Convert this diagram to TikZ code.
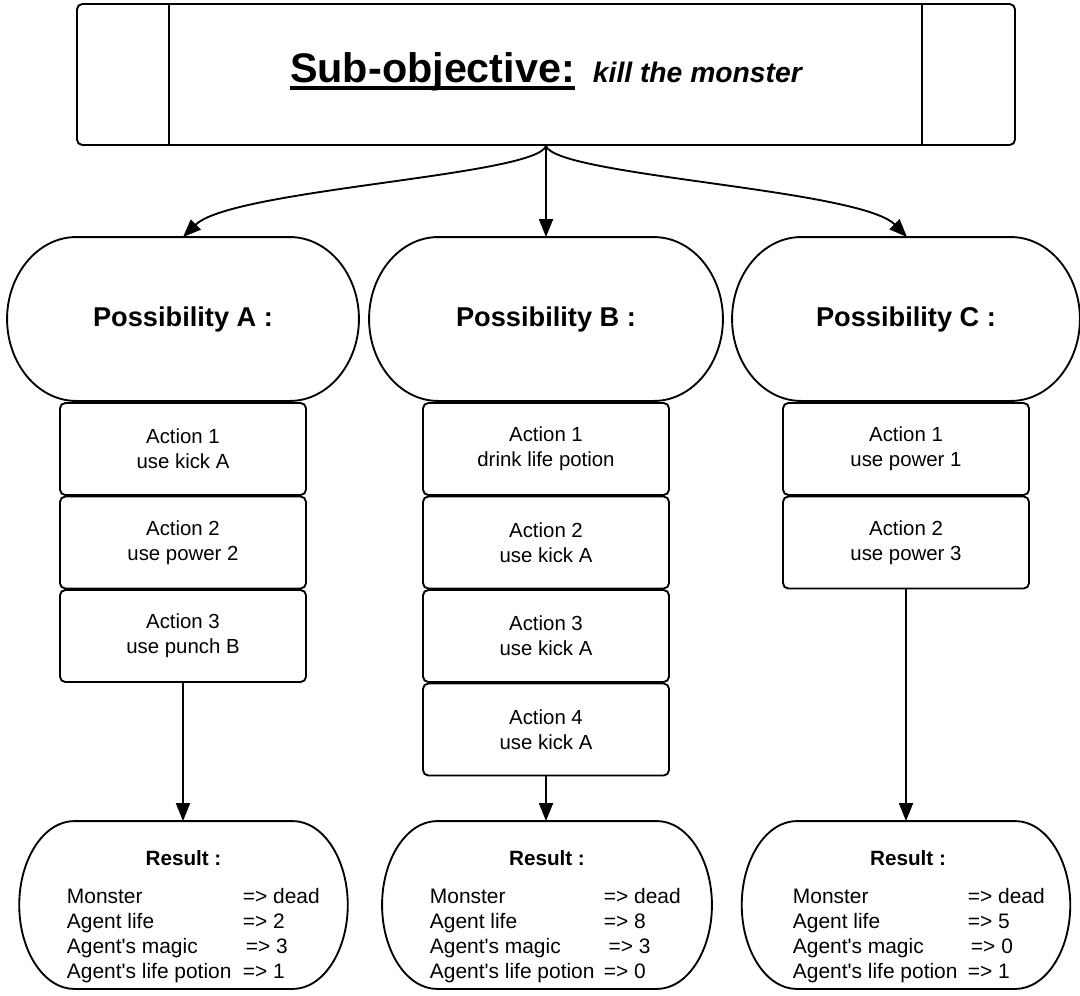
\documentclass[tikz,border=0pt]{standalone}
\usepackage{fontspec}
\setmainfont{Liberation Sans}[Ligatures=TeXOff]
\usetikzlibrary{arrows.meta,calc}

% thick underline for the heading word
\newcommand\heavyul[1]{\setbox0\hbox{#1}\rlap{\vrule width\wd0 height -2.6pt depth 4.9pt}\box0}

% outline with half-elliptic ends round a node (quarter ellipses as Bezier curves):
% #1 node, #2 x radius, #3 control length along x, #4 control length along y
\newcommand\capsule[4]{%
  \draw ($(#1.north west)+(#2,0)$)
    .. controls +(-#3,0) and +(0,-#4) .. (#1.west)
    .. controls +(0,#4) and +(-#3,0) .. ($(#1.south west)+(#2,0)$)
    -- ($(#1.south east)+(-#2,0)$)
    .. controls +(#3,0) and +(0,#4) .. (#1.east)
    .. controls +(0,-#4) and +(#3,0) .. ($(#1.north east)+(-#2,0)$)
    -- cycle;}

\begin{document}
\begin{tikzpicture}[x=0.75pt,y=-0.75pt,
  line width=1.4pt,
  box/.style={draw, rounded corners=4pt, inner sep=0pt},
  goal/.style={box, minimum width=703.5pt, minimum height=105.75pt},
  choice/.style={inner sep=0pt, minimum height=121.5pt,
    font=\fontsize{20.4}{24}\selectfont\bfseries},
  act/.style={box, minimum width=184.5pt, minimum height=69pt, align=center,
    font=\fontsize{15.3}{18.75}\selectfont},
  outcome/.style={inner sep=0pt, minimum height=124.5pt},
  outtitle/.style={anchor=base, inner sep=0pt, font=\fontsize{15.5}{18.75}\selectfont\bfseries},
  outlist/.style={anchor=base west, inner sep=0pt, font=\fontsize{15.7}{18.75}\selectfont},
  link/.style={-{Triangle[length=13.5pt,width=10.5pt]}, line width=1.4pt}
]
\useasboundingbox (0,0) rectangle (1080,995);

% heading box with its two side bars
\node[goal] (goal) at (546,74.5) {};
\draw[line width=1.1pt] ([xshift=69.75pt]goal.north west) -- ([xshift=69.75pt]goal.south west);
\draw[line width=1.1pt] ([xshift=-70.5pt]goal.north east) -- ([xshift=-70.5pt]goal.south east);
\node[anchor=base, inner sep=0pt] (goaltext) at (546,83)
  {\fontsize{31}{36}\selectfont\bfseries\heavyul{Sub-objective:}\hspace{13.5pt}{\fontsize{21.2}{25}\selectfont\itshape kill the monster}};

% the three possibilities
\node[choice, minimum width=262.5pt] (pa) at (183,319) {Possibility A :};
\node[choice, minimum width=264pt]   (pb) at (546,319) {Possibility B :};
\node[choice, minimum width=259.5pt] (pc) at (906,319) {Possibility C :};
\capsule{pa}{69}{38.1}{44.7}
\capsule{pb}{69}{38.1}{44.7}
\capsule{pc}{69}{38.1}{44.7}

% action stacks
\node[act] (a1) at (183,449)   {Action 1\\use kick A};
\node[act] (a2) at (183,542.5) {Action 2\\use power 2};
\node[act] (a3) at (183,636)   {Action 3\\use punch B};

\node[act] (b1) at (546,449)   {Action 1\\drink life potion};
\node[act] (b2) at (546,542.5) {Action 2\\use kick A};
\node[act] (b3) at (546,636)   {Action 3\\use kick A};
\node[act] (b4) at (546,729.5) {Action 4\\use kick A};

\node[act] (c1) at (906,449)   {Action 1\\use power 1};
\node[act] (c2) at (906,542.5) {Action 2\\use power 3};

% results
\node[outcome, minimum width=245pt]   (ra) at (183.5,905) {};
\node[outcome, minimum width=246pt]   (rb) at (547,905)   {};
\node[outcome, minimum width=245pt]   (rc) at (906,905)   {};
\capsule{ra}{55}{30.4}{45.8}
\capsule{rb}{55}{30.4}{45.8}
\capsule{rc}{55}{30.4}{45.8}

\node[outtitle] (ra-title) at (183.5,865) {Result :};
\node[outtitle] (rb-title) at (547,865)   {Result :};
\node[outtitle] (rc-title) at (908,865)   {Result :};

\node[outlist] (ra-list) at (66,903) {\begin{tabular}[t]{@{}p{132pt}@{}l@{}}
  Monster & => dead\\ Agent life & => 2\\ Agent's magic & \hspace{2.3pt}=> 3\\ Agent's life potion & => 1
\end{tabular}};
\node[outlist] (rb-list) at (429,903) {\begin{tabular}[t]{@{}p{130.5pt}@{}l@{}}
  Monster & => dead\\ Agent life & => 8\\ Agent's magic & \hspace{3.5pt}=> 3\\ Agent's life potion & => 0
\end{tabular}};
\node[outlist] (rc-list) at (792,903) {\begin{tabular}[t]{@{}p{131.25pt}@{}l@{}}
  Monster & => dead\\ Agent life & => 5\\ Agent's magic & \hspace{2.3pt}=> 0\\ Agent's life potion & => 1
\end{tabular}};

% connectors
\draw[link] (goal.south) .. controls +(-10,30) and +(49,-48) .. (pa.north);
\draw[link] (goal.south) -- (pb.north);
\draw[link] (goal.south) .. controls +(10,30) and +(-47,-48) .. ([xshift=0.75pt]pc.north);

\draw[link] (a3.south) -- (a3.south |- ra.north);
\draw[link] (b4.south) -- (b4.south |- rb.north);
\draw[link] (c2.south) -- (c2.south |- rc.north);
\end{tikzpicture}
\end{document}
